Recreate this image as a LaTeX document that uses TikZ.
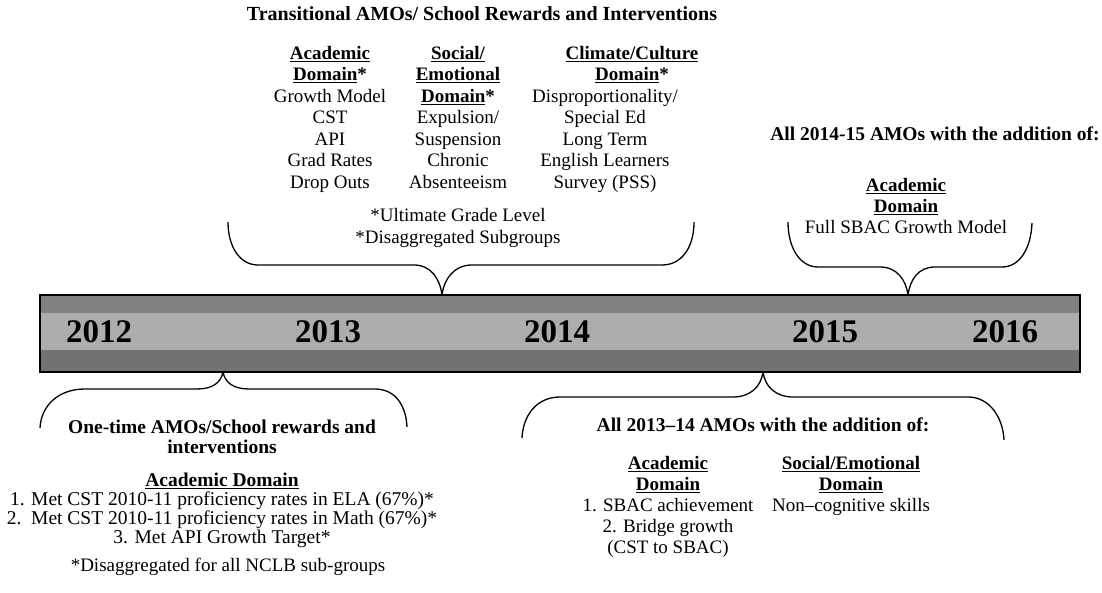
\documentclass[tikz,border=0pt]{standalone}
\usepackage{fontspec}
\setmainfont{Liberation Serif}
\definecolor{bandtop}{HTML}{828282}
\definecolor{bandmid}{HTML}{ADADAD}
\definecolor{bandbot}{HTML}{727272}
\tikzset{
  txt/.style={inner sep=0pt, align=center, font=\fontsize{19}{21.5}\selectfont},
  bld/.style={inner sep=0pt, align=center, font=\fontsize{19.5}{20}\selectfont\bfseries},
  yr/.style={inner sep=0pt, anchor=base, font=\fontsize{33}{36}\selectfont\bfseries},
  brace/.style={draw=black, line width=1.3pt},
}
\begin{document}
\begin{tikzpicture}[x=1pt,y=-1pt]
\useasboundingbox (0,0) rectangle (1102,593);
% timeline bar
\fill[bandtop] (40,295) rectangle (1080,313);
\fill[bandmid] (40,313) rectangle (1080,350);
\fill[bandbot] (40,350) rectangle (1080,372);
\node[draw=black, line width=1.2pt, inner sep=0pt, minimum width=1040pt, minimum height=77pt] (bar) at (560,333.5) {};
\node[yr] (y2012) at (99,342) {2012};
\node[yr] (y2013) at (328,342) {2013};
\node[yr] (y2014) at (557,342) {2014};
\node[yr] (y2015) at (825,342) {2015};
\node[yr] (y2016) at (1005,342) {2016};

% top block
\node[bld, anchor=base, font=\fontsize{20}{21}\selectfont\bfseries] (title) at (482,21) {Transitional AMOs/ School Rewards and Interventions};
\node[txt, anchor=north] (acad) at (330,46) {\textbf{\underline{Academic}}\\\textbf{\underline{Domain}*}\\Growth Model\\CST\\API\\Grad Rates\\Drop Outs};
\node[txt, anchor=north] (soc) at (458,46) {\textbf{\underline{Social/}}\\\textbf{\underline{Emotional}}\\\textbf{\underline{Domain}*}\\Expulsion/\\Suspension\\Chronic\\Absenteeism};
\node[txt, anchor=north] (climh) at (632,46) {\textbf{\underline{Climate/Culture}}\\\textbf{\underline{Domain}*}};
\node[txt, anchor=north] (clim) at (605,89) {Disproportionality/\\Special Ed\\Long Term\\English Learners\\Survey (PSS)};
\node[txt, anchor=north, font=\fontsize{19}{22}\selectfont] (foot1) at (458,208) {*Ultimate Grade Level\\*Disaggregated Subgroups};

% top right block
\node[bld, anchor=base] (t15) at (935,141) {All 2014-15 AMOs with the addition of:};
\node[txt, anchor=north, font=\fontsize{19}{21}\selectfont] (acad15) at (906,178) {\textbf{\underline{Academic}}\\\textbf{\underline{Domain}}\\Full SBAC Growth Model};

% bottom left block
\node[bld, anchor=north] (t12) at (222,420) {One-time AMOs/School rewards and\\interventions};
\node[txt, anchor=north, font=\fontsize{19.5}{19}\selectfont] (acad12) at (222,473) {\textbf{\underline{Academic Domain}}\\1. Met CST 2010-11 proficiency rates in ELA (67\%)*\\2.\ \ Met CST 2010-11 proficiency rates in Math (67\%)*\\3. Met API Growth Target*};
\node[txt, anchor=base] (foot12) at (228,571) {*Disaggregated for all NCLB sub-groups};

% bottom right block
\node[bld, anchor=base] (t14) at (763,431) {All 2013--14 AMOs with the addition of:};
\node[txt, anchor=north, font=\fontsize{19}{21}\selectfont] (acad14) at (668,456) {\textbf{\underline{Academic}}\\\textbf{\underline{Domain}}\\1. SBAC achievement\\2. Bridge growth\\(CST to SBAC)};
\node[txt, anchor=north, font=\fontsize{19}{21}\selectfont] (soc14) at (851,456) {\textbf{\underline{Social/Emotional}}\\\textbf{\underline{Domain}}\\Non--cognitive skills};

% braces
\coordinate (tbL) at (228,222); \coordinate (tbT) at (442,295); \coordinate (tbR) at (694,222);
\draw[brace] (tbL) .. controls (228,247) and (240,265) .. (258,265) -- (414,265)
  .. controls (431,265) and (440,279) .. (tbT);
\draw[brace] (tbT) .. controls (444,279) and (454,265) .. (472,265) -- (662,265)
  .. controls (682,265) and (694,247) .. (tbR);

\coordinate (rbL) at (788,222); \coordinate (rbT) at (908,295); \coordinate (rbR) at (1032,223);
\draw[brace] (rbL) .. controls (788,248) and (800,267) .. (818,267) -- (880,267)
  .. controls (897,267) and (906,280) .. (rbT);
\draw[brace] (rbT) .. controls (910,280) and (918,267) .. (935,267) -- (1002,267)
  .. controls (1020,267) and (1031,248) .. (rbR);

\coordinate (lbL) at (40,428); \coordinate (lbT) at (223,372); \coordinate (lbR) at (407,427);
\draw[brace] (lbT) .. controls (221,383) and (212,389) .. (197,389) -- (85,389)
  .. controls (58,389) and (41,406) .. (lbL);
\draw[brace] (lbT) .. controls (225,383) and (234,389) .. (249,389) -- (375,389)
  .. controls (395,389) and (406,405) .. (lbR);

\coordinate (mbL) at (522,438); \coordinate (mbT) at (763,372); \coordinate (mbR) at (1004,440);
\draw[brace] (mbT) .. controls (761,387) and (750,397) .. (733,397) -- (560,397)
  .. controls (537,397) and (523,415) .. (mbL);
\draw[brace] (mbT) .. controls (765,387) and (776,397) .. (793,397) -- (968,397)
  .. controls (990,397) and (1003,418) .. (mbR);
\end{tikzpicture}
\end{document}
